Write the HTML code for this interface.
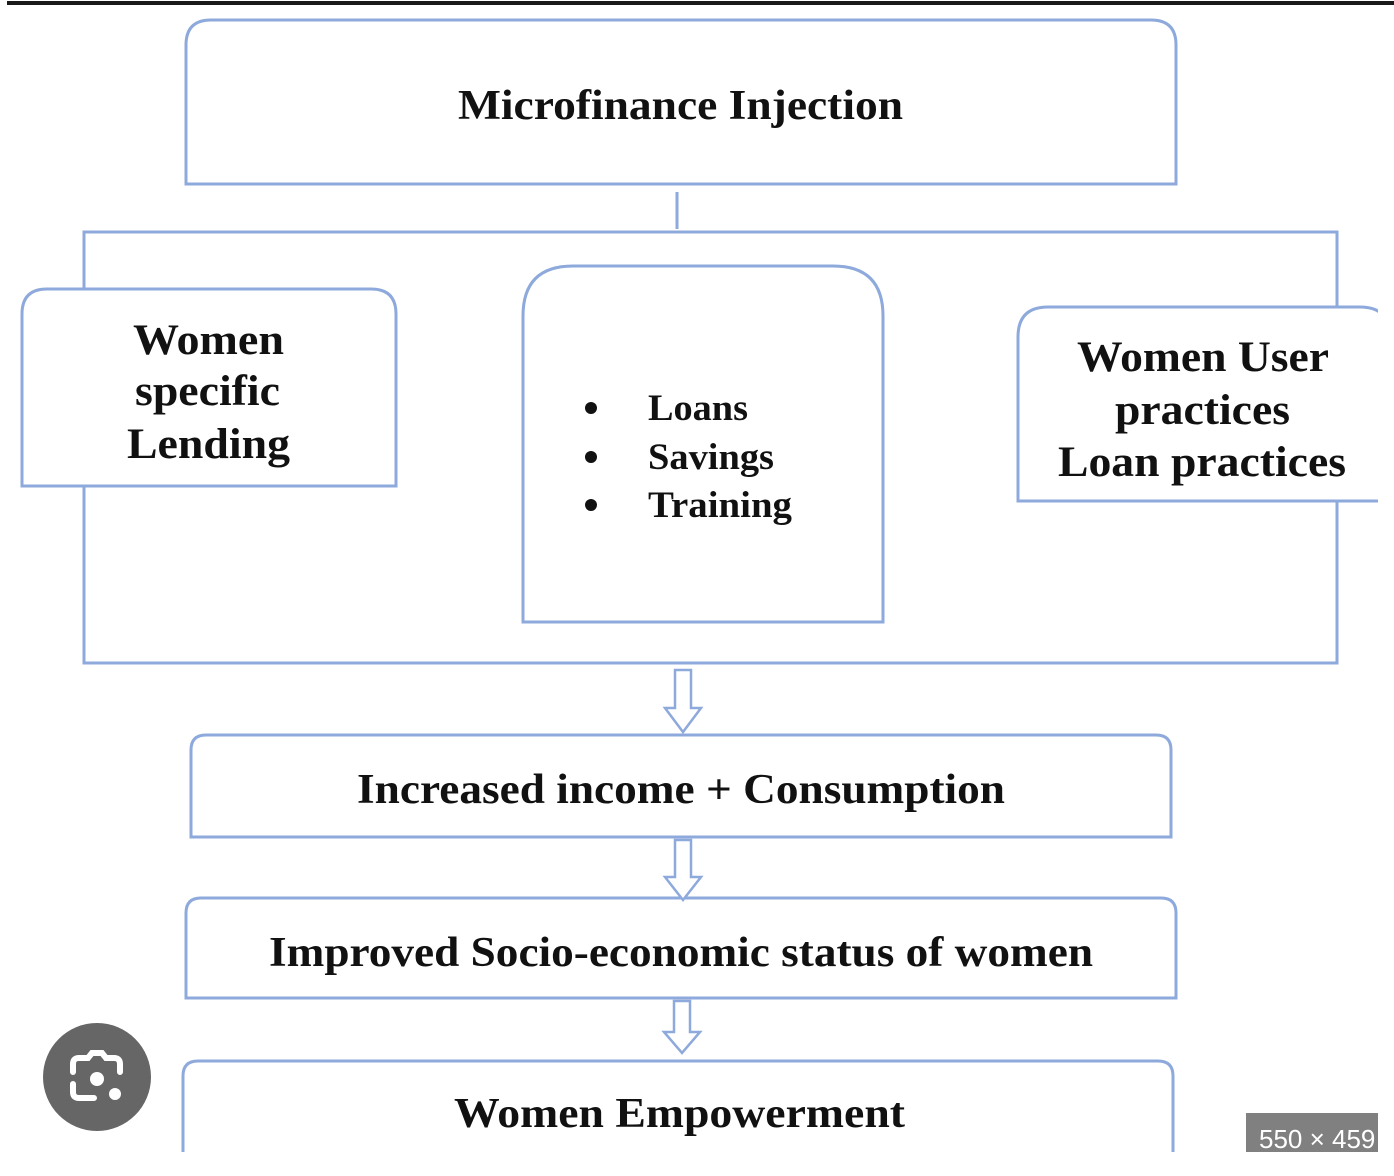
<!DOCTYPE html>
<html><head><meta charset="utf-8"><style>
html,body{margin:0;padding:0;background:#fff;}
svg{display:block;}
text{font-family:"Liberation Serif",serif;font-weight:bold;fill:#111;}
</style></head><body>
<svg width="1394" height="1176" viewBox="0 0 1394 1176" xmlns="http://www.w3.org/2000/svg">
<rect x="7" y="1" width="1387" height="4" fill="#1a1a1a"/>
<g fill="none" stroke="#8ea9db" stroke-width="3">
<path d="M186 184 V45 Q186 20 211 20 H1151 Q1176 20 1176 45 V184 Z"/>
<line x1="677" y1="192" x2="677" y2="229"/>
<rect x="84" y="232" width="1253" height="431"/>
</g>
<g fill="#fff" stroke="#8ea9db" stroke-width="3">
<path d="M22 486 V314 Q22 289 47 289 H371 Q396 289 396 314 V486 Z"/>
<path d="M523 622 V316 Q523 266 573 266 H833 Q883 266 883 316 V622 Z"/>
<path d="M1018 501 V337 Q1018 307 1048 307 H1360 Q1390 307 1390 337 V501 Z"/>
<path d="M191 837 V750 Q191 735 206 735 H1156 Q1171 735 1171 750 V837 Z"/>
<path d="M186 998 V913 Q186 898 201 898 H1161 Q1176 898 1176 913 V998 Z"/>
<path d="M183 1152 V1076 Q183 1061 198 1061 H1158 Q1173 1061 1173 1076 V1152"/>
<path d="M675 670 H691 V708 H701 L683 732 L665 708 H675 Z" stroke-width="2.5"/>
<path d="M675 840 H691 V877 H701 L683 900 L665 877 H675 Z" stroke-width="2.5"/>
<path d="M674 1001 H690 V1032 H700 L682 1053 L664 1032 H674 Z" stroke-width="2.5"/>
</g>
<g lengthAdjust="spacingAndGlyphs">
<text x="458" y="119" font-size="42" textLength="445" lengthAdjust="spacingAndGlyphs">Microfinance Injection</text>
<text x="133" y="354" font-size="43" textLength="151" lengthAdjust="spacingAndGlyphs">Women</text>
<text x="135" y="405" font-size="43" textLength="145" lengthAdjust="spacingAndGlyphs">specific</text>
<text x="127" y="458" font-size="43" textLength="163" lengthAdjust="spacingAndGlyphs">Lending</text>
<circle cx="591" cy="408" r="6" fill="#111"/><text x="648" y="420" font-size="37" textLength="100" lengthAdjust="spacingAndGlyphs">Loans</text>
<circle cx="591" cy="457" r="6" fill="#111"/><text x="648" y="469" font-size="37" textLength="126" lengthAdjust="spacingAndGlyphs">Savings</text>
<circle cx="591" cy="505" r="6" fill="#111"/><text x="648" y="517" font-size="37" textLength="144" lengthAdjust="spacingAndGlyphs">Training</text>
<text x="1077" y="371" font-size="43" textLength="252" lengthAdjust="spacingAndGlyphs">Women User</text>
<text x="1115" y="424" font-size="43" textLength="175" lengthAdjust="spacingAndGlyphs">practices</text>
<text x="1058" y="476" font-size="43" textLength="288" lengthAdjust="spacingAndGlyphs">Loan practices</text>
<text x="357" y="803" font-size="42" textLength="648" lengthAdjust="spacingAndGlyphs">Increased income + Consumption</text>
<text x="269" y="966" font-size="42" textLength="824" lengthAdjust="spacingAndGlyphs">Improved Socio-economic status of women</text>
<text x="454" y="1127" font-size="42" textLength="451" lengthAdjust="spacingAndGlyphs">Women Empowerment</text>
</g>
<rect x="0" y="1152" width="1394" height="24" fill="#fff"/>
<circle cx="97" cy="1077" r="54" fill="#666"/>
<g fill="none" stroke="#fff" stroke-width="6" stroke-linecap="round">
<path d="M73 1072 V1064 Q73 1058 79 1058 H88 L92 1053 H102 L106 1058 H114 Q120 1058 120 1064 V1072"/>
<path d="M73 1084 V1092 Q73 1098 79 1098 H94"/>
</g>
<circle cx="97" cy="1079" r="7" fill="#fff"/>
<circle cx="115" cy="1094" r="6" fill="#fff"/>
<rect x="1246" y="1113" width="148" height="39" fill="#808080"/>
<text x="1259" y="1148" font-size="26" style="font-family:'Liberation Sans',sans-serif;font-weight:normal;fill:#fff">550 × 459</text>
<rect x="1378" y="0" width="16" height="1176" fill="#fff"/>
<rect x="1378" y="1" width="16" height="4" fill="#1a1a1a"/>
</svg>
</body></html>
